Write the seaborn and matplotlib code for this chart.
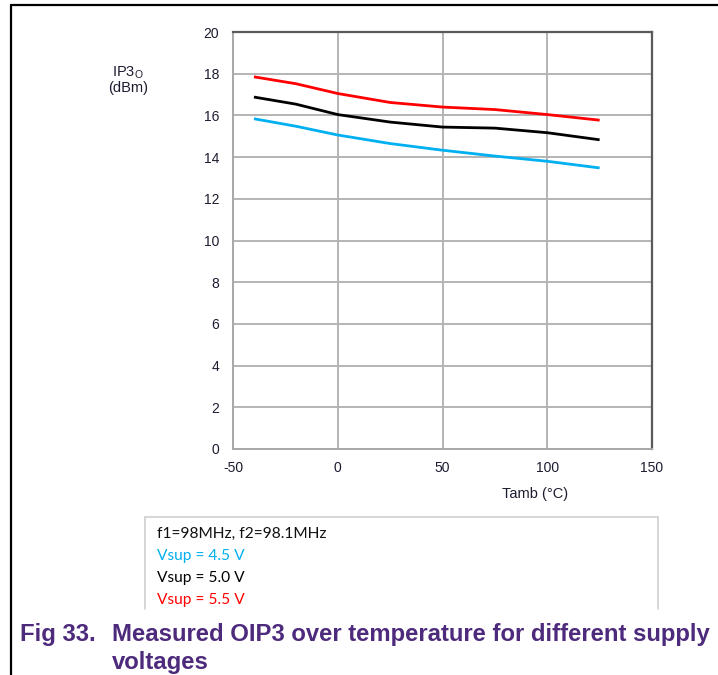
import matplotlib
matplotlib.use("Agg")
import matplotlib.pyplot as plt
from matplotlib.lines import Line2D
import pandas as pd
import seaborn as sns

# Ambient temperature (deg C) and output IP3 (dBm) per supply voltage
temperature = [-40, -20, 0, 25, 50, 75, 100, 125]
oip3_4v5 = [15.84, 15.48, 15.06, 14.65, 14.33, 14.05, 13.80, 13.48]
oip3_5v0 = [16.88, 16.54, 16.04, 15.68, 15.44, 15.39, 15.17, 14.83]
oip3_5v5 = [17.85, 17.52, 17.05, 16.62, 16.40, 16.28, 16.04, 15.77]

series_labels = ["Vsup = 4.5 V", "Vsup = 5.0 V", "Vsup = 5.5 V"]
series_colors = ["#00B0F0", "#000000", "#FF0000"]

x_ticks = [-50, 0, 50, 100, 150]
y_ticks = [0, 2, 4, 6, 8, 10, 12, 14, 16, 18, 20]

rows = []
for label, values in zip(series_labels, [oip3_4v5, oip3_5v0, oip3_5v5]):
    for t, v in zip(temperature, values):
        rows.append({"Tamb": t, "OIP3": v, "supply": label})
df = pd.DataFrame(rows)

sns.set_theme(style="white")
plt.rcParams["font.family"] = ["Liberation Sans", "DejaVu Sans"]

W, H = 718, 675
fig = plt.figure(figsize=(W / 100, H / 100), dpi=100)
ax = fig.add_axes([233 / W, 1 - 449 / H, (652 - 233) / W, (449 - 32) / H])

sns.lineplot(data=df, x="Tamb", y="OIP3", hue="supply",
             palette=dict(zip(series_labels, series_colors)),
             linewidth=2.0, legend=False, ax=ax)
for line in ax.get_lines():
    line.set_solid_joinstyle("round")
    line.set_solid_capstyle("butt")

ax.set_xlim(-50, 150)
ax.set_ylim(0, 20)
ax.set_xticks(x_ticks)
ax.set_yticks(y_ticks)
ax.set_xticklabels([str(v) for v in x_ticks])
ax.set_yticklabels([str(v) for v in y_ticks])
ax.tick_params(axis="both", length=0, labelsize=10, colors="#1c1c30")
ax.tick_params(axis="y", pad=10)
ax.tick_params(axis="x", pad=9)
ax.grid(True, color="#b4b4b4", linewidth=1.4)
ax.set_axisbelow(True)
ax.set_xlabel("")
ax.set_ylabel("")
for side in ["left", "bottom"]:
    ax.spines[side].set_color("#a8a8a8")
    ax.spines[side].set_linewidth(1.4)
for side in ["top", "right"]:
    ax.spines[side].set_color("#5a5a5a")
    ax.spines[side].set_linewidth(1.6)

# Axis titles
fig.text(128 / W, 1 - 73 / H, r"IP3$_\mathregular{O}$", ha="center", va="center",
         fontsize=10.5, color="#1c1c30")
fig.text(128 / W, 1 - 88 / H, "(dBm)", ha="center", va="center",
         fontsize=10.5, color="#1c1c30")
fig.text(535 / W, 1 - 494 / H, "Tamb (\u00b0C)", ha="center", va="center",
         fontsize=10.5, color="#1c1c30")

# Conditions box under the plot (open at the bottom)
box_edge = dict(transform=fig.transFigure, color="#d0d0d0", linewidth=1.2)
fig.add_artist(Line2D([145 / W, 658 / W], [1 - 517 / H, 1 - 517 / H], **box_edge))
fig.add_artist(Line2D([145 / W, 145 / W], [1 - 517 / H, 1 - 609 / H], **box_edge))
fig.add_artist(Line2D([658 / W, 658 / W], [1 - 517 / H, 1 - 609 / H], **box_edge))
box_lines = ["f1=98MHz, f2=98.1MHz"] + series_labels
box_colors = ["#111111"] + series_colors
for i, (txt, col) in enumerate(zip(box_lines, box_colors)):
    fig.text(157 / W, 1 - (534 + 22 * i) / H, txt, ha="left", va="center",
             fontsize=11.2, color=col, family=["Lato", "DejaVu Sans"])

# Caption
purple = "#4d2a7c"
fig.text(20 / W, 1 - 634 / H, "Fig 33.", ha="left", va="center",
         fontsize=17.2, fontweight="bold", color=purple)
fig.text(112 / W, 1 - 634 / H, "Measured OIP3 over temperature for different supply",
         ha="left", va="center", fontsize=17.2, fontweight="bold", color=purple)
fig.text(112 / W, 1 - 662 / H, "voltages", ha="left", va="center",
         fontsize=17.2, fontweight="bold", color=purple)

# Page frame lines
fig.add_artist(Line2D([11 / W, 11 / W], [0, 1 - 5 / H], transform=fig.transFigure,
                      color="black", linewidth=1.6))
fig.add_artist(Line2D([11 / W, 1], [1 - 5 / H, 1 - 5 / H], transform=fig.transFigure,
                      color="black", linewidth=1.6))

fig.savefig("out.png", dpi=100)
